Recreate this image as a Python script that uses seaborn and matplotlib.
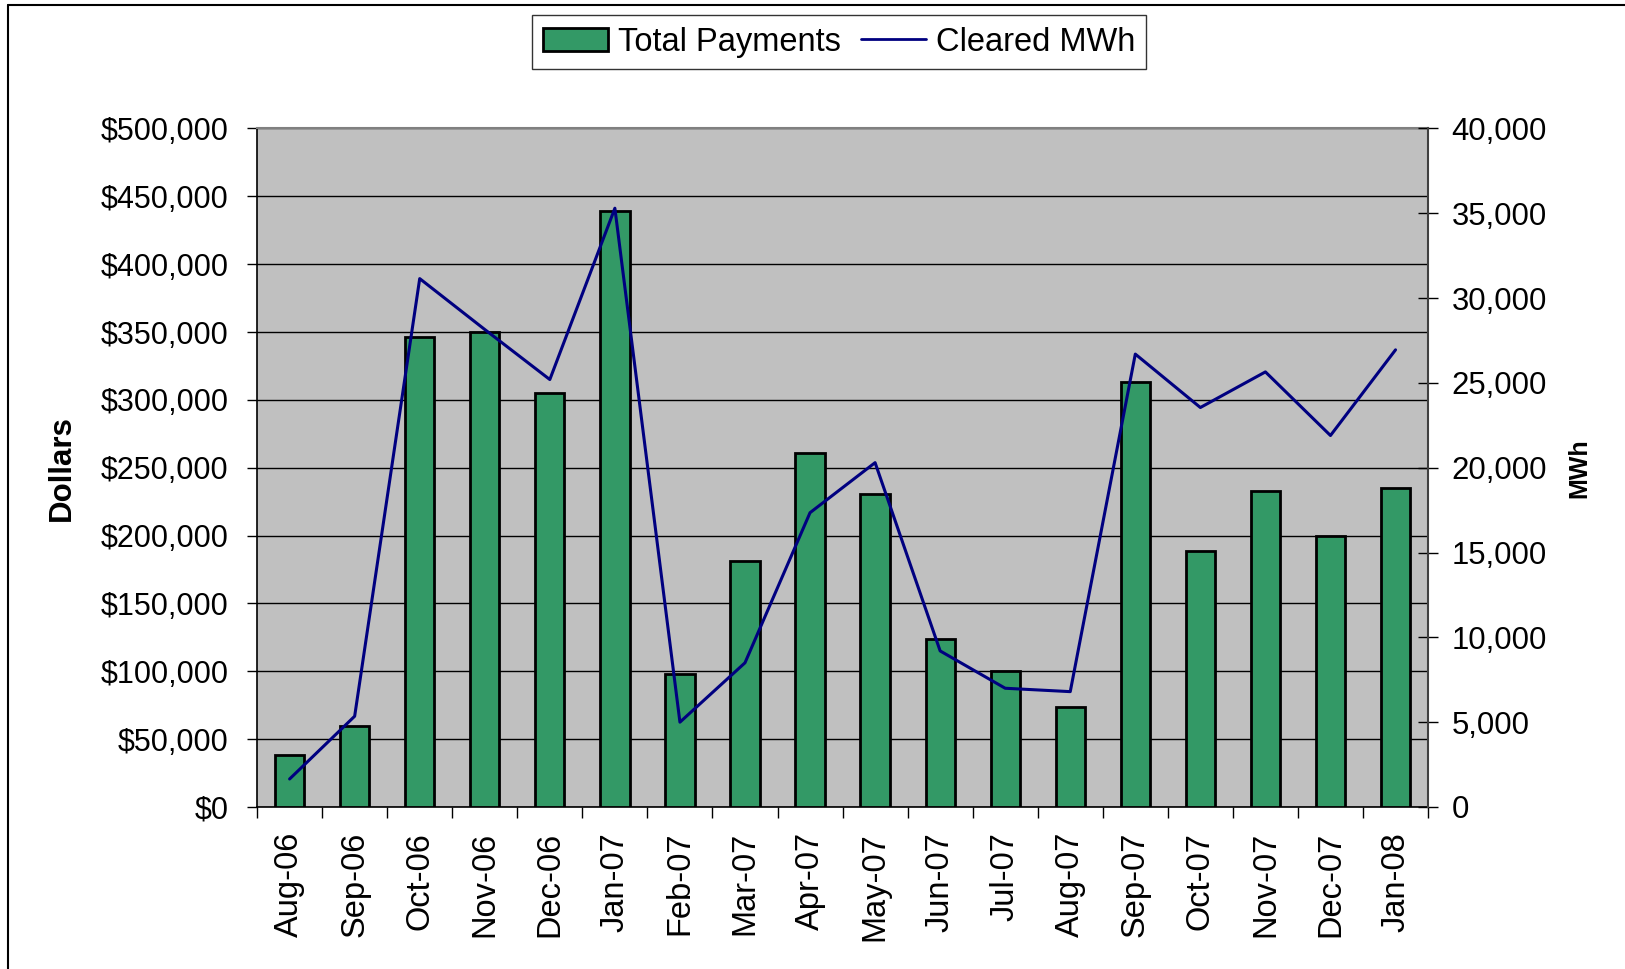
import numpy as np
import pandas as pd
import matplotlib
matplotlib.use("Agg")
import matplotlib.pyplot as plt
import seaborn as sns
from matplotlib.patches import Patch
from matplotlib.lines import Line2D
from matplotlib.ticker import FuncFormatter, MultipleLocator

months = ["Aug-06", "Sep-06", "Oct-06", "Nov-06", "Dec-06", "Jan-07", "Feb-07",
          "Mar-07", "Apr-07", "May-07", "Jun-07", "Jul-07", "Aug-07", "Sep-07",
          "Oct-07", "Nov-07", "Dec-07", "Jan-08"]
payments = [38000, 60000, 346000, 350000, 305000, 439000, 98000, 181000, 261000,
            231000, 124000, 100000, 74000, 313000, 189000, 233000, 200000, 235000]
cleared_mwh = [1650, 5350, 31150, 28150, 25200, 35300, 5000, 8500, 17350, 20300,
               9200, 7000, 6800, 26700, 23550, 25650, 21900, 26950]

sns.set_theme(style="white")
plt.rcParams['font.family'] = ['Liberation Sans', 'DejaVu Sans']
plt.rcParams['text.color'] = 'black'
plt.rcParams['axes.labelcolor'] = 'black'
plt.rcParams['xtick.color'] = 'black'
plt.rcParams['ytick.color'] = 'black'

fig = plt.figure(figsize=(16.25, 9.69), dpi=100)
ax = fig.add_axes([0.1582, 0.1672, 0.7206, 0.7002])

df = pd.DataFrame({"month": months, "payments": payments})
sns.barplot(data=df, x="month", y="payments", color="#339966", saturation=1,
            edgecolor="black", linewidth=2, width=0.45, ax=ax, zorder=3)

ax.set_facecolor("#C0C0C0")
ax.set_ylim(0, 500000)
ax.set_xlim(-0.5, len(months) - 0.5)
ax.yaxis.set_major_locator(MultipleLocator(50000))
ax.yaxis.set_major_formatter(FuncFormatter(lambda v, p: "${:,.0f}".format(v)))
ax.grid(axis="y", color="black", linewidth=1, zorder=0)
ax.set_axisbelow(True)
ax.tick_params(axis="y", which="major", direction="out", length=7.2, width=1,
               color="black", labelsize=22, pad=13.5, left=True)
ax.set_xticks(np.arange(len(months)))
ax.set_xticklabels(months, rotation=90)
ax.tick_params(axis="x", which="major", length=0, labelsize=23.5, pad=18)
ax.set_xticks(np.arange(-0.5, len(months)), minor=True)
ax.tick_params(axis="x", which="minor", direction="out", length=8, width=1,
               color="black", bottom=True)
ax.set_xlabel("")
ax.set_ylabel("Dollars", fontsize=22.5, fontweight="bold")
ax.yaxis.set_label_coords(-0.154, 0.5)
for s in ["left", "bottom"]:
    ax.spines[s].set_color("black")
    ax.spines[s].set_linewidth(1.2)
ax.spines["top"].set_color("#808080")
ax.spines["top"].set_linewidth(1.5)

ax2 = ax.twinx()
sns.lineplot(x=np.arange(len(months)), y=cleared_mwh, color="#000080",
             linewidth=2.2, ax=ax2, zorder=4)
ax2.set_ylim(0, 40000)
ax2.set_xlim(-0.5, len(months) - 0.5)
ax2.yaxis.set_major_locator(MultipleLocator(5000))
ax2.yaxis.set_major_formatter(FuncFormatter(lambda v, p: "{:,.0f}".format(v)))
ax2.tick_params(axis="y", direction="inout", length=15, width=1, color="black",
                labelsize=22.4, pad=9.5, right=True)
ax2.set_ylabel("MWh", fontsize=18, fontweight="bold", rotation=90)
ax2.yaxis.set_label_coords(1.119, 0.5)
ax2.spines["right"].set_color("#404040")
ax2.spines["right"].set_linewidth(1.5)
for s in ["left", "top", "bottom"]:
    ax2.spines[s].set_visible(False)
ax2.grid(False)

handles = [Patch(facecolor="#339966", edgecolor="black", linewidth=2),
           Line2D([0], [0], color="#000080", linewidth=2)]
leg = fig.legend(handles, ["Total Payments", "Cleared MWh"], loc="center",
                 bbox_to_anchor=(0.5163, 0.9566), ncol=2, fontsize=23.5,
                 frameon=True, fancybox=False, edgecolor="black",
                 handlelength=2.0, handletextpad=0.3, columnspacing=0.6,
                 borderpad=0.35)
leg.get_frame().set_linewidth(1)

fig.add_artist(Line2D([8 / 1625, 1], [1 - 5 / 969, 1 - 5 / 969], color="black",
                      linewidth=1.5, transform=fig.transFigure))
fig.add_artist(Line2D([8 / 1625, 8 / 1625], [0, 1 - 5 / 969], color="black",
                      linewidth=1.5, transform=fig.transFigure))

fig.savefig("out.png", dpi=100)
